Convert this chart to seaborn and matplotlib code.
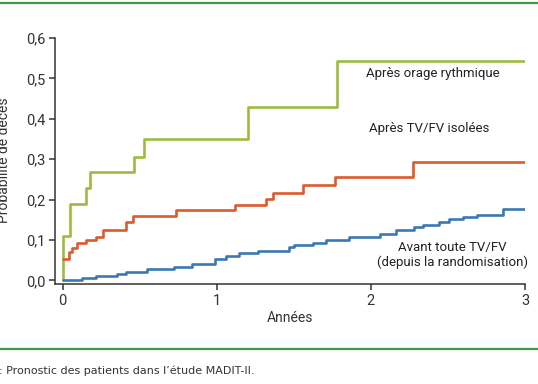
import seaborn as sns
import pandas as pd
import matplotlib.pyplot as plt
from matplotlib.lines import Line2D

# ---- data (step curves, value from t onward) ----
t_orage = [0, 0, 0.05, 0.15, 0.18, 0.46, 0.53, 1.20, 1.78, 3.0]
v_orage = [0, 0.111, 0.189, 0.228, 0.269, 0.306, 0.350, 0.430, 0.543, 0.543]

t_isolees = [0, 0.041, 0.063, 0.093, 0.149, 0.219, 0.264, 0.409, 0.457, 0.738,
             1.12, 1.318, 1.363, 1.56, 1.77, 2.27, 3.0]
v_isolees = [0.052, 0.069, 0.080, 0.092, 0.100, 0.108, 0.125, 0.144, 0.160, 0.173,
             0.186, 0.202, 0.216, 0.236, 0.255, 0.292, 0.292]

t_avant = [0, 0.125, 0.219, 0.35, 0.41, 0.55, 0.72, 0.84, 0.99, 1.06, 1.145, 1.27,
           1.47, 1.5, 1.625, 1.71, 1.86, 2.06, 2.16, 2.28, 2.34, 2.44, 2.51, 2.6,
           2.69, 2.86, 3.0]
v_avant = [0, 0.005, 0.010, 0.015, 0.021, 0.028, 0.034, 0.041, 0.054, 0.060, 0.067,
           0.073, 0.082, 0.087, 0.093, 0.099, 0.108, 0.116, 0.124, 0.132, 0.137,
           0.145, 0.151, 0.156, 0.162, 0.177, 0.177]

series_names = ["Après orage rythmique", "Après TV/FV isolées",
                "Avant toute TV/FV\n(depuis la randomisation)"]
colors = ["#9dbb3e", "#de5a2c", "#3b78b3"]

x_ticks = [0, 1, 2, 3]
y_ticks = [0, 0.1, 0.2, 0.3, 0.4, 0.5, 0.6]
y_ticklabels = ["0,0", "0,1", "0,2", "0,3", "0,4", "0,5", "0,6"]

df = pd.concat([
    pd.DataFrame({"t": t_orage, "p": v_orage, "groupe": series_names[0]}),
    pd.DataFrame({"t": t_isolees, "p": v_isolees, "groupe": series_names[1]}),
    pd.DataFrame({"t": t_avant, "p": v_avant, "groupe": series_names[2]}),
], ignore_index=True)

sns.set_style("ticks")
plt.rcParams['font.family'] = ['Roboto', 'DejaVu Sans']

fig = plt.figure(figsize=(5.38, 3.84), dpi=100)
ax = fig.add_axes([55 / 538, 1 - 284 / 384, 470 / 538, 246 / 384])

sns.lineplot(data=df, x="t", y="p", hue="groupe", palette=colors,
             estimator=None, sort=False, drawstyle="steps-post",
             linewidth=1.9, legend=False, ax=ax)

ax.set_xlim(-0.05, 3.0)
ax.set_ylim(-0.009, 0.6)
ax.set_xticks(x_ticks)
ax.set_yticks(y_ticks)
ax.set_yticklabels(y_ticklabels)
ax.tick_params(colors="#333333", labelsize=10.5, length=4, width=1.1, pad=3)
for s in ["top", "right"]:
    ax.spines[s].set_visible(False)
for s in ["left", "bottom"]:
    ax.spines[s].set_color("#333333")
    ax.spines[s].set_linewidth(1.1)
ax.set_xlabel("Années", fontsize=10, color="#333333", labelpad=2)
ax.set_ylabel("")

# series labels
ax.text(2.40, 0.512, series_names[0], ha="center", va="center", fontsize=9.5, color="#222222")
ax.text(2.38, 0.375, series_names[1], ha="center", va="center", fontsize=9.5, color="#222222")
ax.text(2.53, 0.064, series_names[2], ha="center", va="center", fontsize=9.5,
        color="#222222", linespacing=1.15)

# y label (partly cut by the left edge, as in the source)
fig.text(4 / 538, 1 - 160 / 384, "Probabilité de décès", rotation=90,
         ha="center", va="center", fontsize=10, color="#333333")

# green frame rules and caption
fig.add_artist(Line2D([0, 1], [1 - 3 / 384, 1 - 3 / 384], color="#3f9a45", lw=1.6))
fig.add_artist(Line2D([0, 1], [1 - 349 / 384, 1 - 349 / 384], color="#3f9a45", lw=1.6))
fig.text(-1 / 538, 1 - 371 / 384, ": Pronostic des patients dans l’étude MADIT-II.",
         ha="left", va="center", fontsize=8, color="#333333", family=["DejaVu Sans"])

fig.savefig("out.png", dpi=100)
